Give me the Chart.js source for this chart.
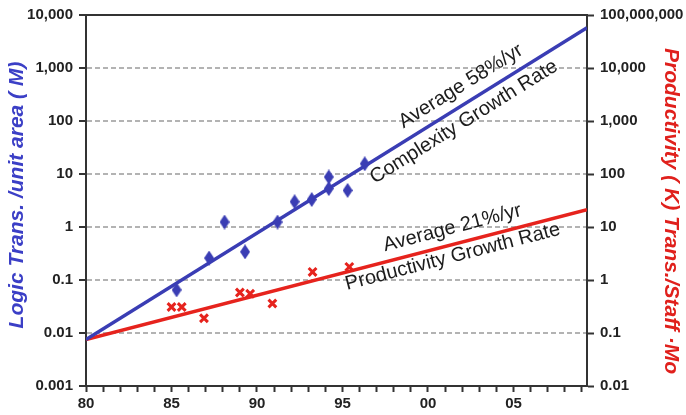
<!DOCTYPE html>
<html>
<head>
<meta charset="utf-8">
<script src="https://cdn.jsdelivr.net/npm/chart.js@4/dist/chart.umd.min.js"></script>
<style>
  html, body { margin: 0; padding: 0; background: #fff; }
  #wrap { width: 686px; height: 415px; position: relative; }
</style>
</head>
<body>
<div id="wrap"><canvas id="c"></canvas></div>
<script>
// Logic transistor density, millions per unit area (left axis)
const densityYears  = [1985.3, 1987.2, 1988.1, 1989.3, 1991.2, 1992.2, 1993.2, 1994.2, 1994.2, 1995.3, 1996.3];
const densityValues = [0.065, 0.26, 1.24, 0.34, 1.24, 3.0, 3.3, 8.8, 5.3, 4.9, 15.6];

// Design productivity, K transistors per staff-month (right axis)
const productivityYears  = [1985.0, 1985.6, 1986.9, 1989.0, 1989.6, 1990.9, 1993.25, 1995.4];
const productivityValues = [0.31, 0.31, 0.19, 0.58, 0.55, 0.36, 1.42, 1.77];

// Fitted growth trends (58%/yr complexity, 21%/yr productivity)
const trendYears        = [1980, 2009.3];
const complexityTrend   = [0.0075, 5750];
const productivityTrend = [0.075, 21.3];

// Axis ticks and their labels
const leftTicks       = [0.001, 0.01, 0.1, 1, 10, 100, 1000, 10000];
const leftTickLabels  = ['0.001', '0.01', '0.1', '1', '10', '100', '1,000', '10,000'];
const rightTicks      = [0.01, 0.1, 1, 10, 100, 1000, 10000, 100000];
const rightTickLabels = ['0.01', '0.1', '1', '10', '100', '1,000', '10,000', '100,000,000'];
const yearLabelAt     = [1980, 1985, 1990, 1995, 2000, 2005];
const yearLabels      = ['80', '85', '90', '95', '00', '05'];

const BLUE = '#3a3db4';
const RED = '#e6231d';
const AXIS = '#333333';
const TICK_FONT = { family: '"Liberation Sans", Arial, sans-serif', size: 15, weight: 'bold' };

// yearly minor ticks along the x axis
const yearTicks = [];
for (let y = 1980; y <= 2009; y++) yearTicks.push(y);

// tall diamond marker
function diamondMarker(w, h, color) {
  const c = document.createElement('canvas');
  c.width = w; c.height = h;
  const g = c.getContext('2d');
  g.fillStyle = color;
  g.beginPath();
  g.moveTo(w / 2, 0); g.lineTo(w, h / 2); g.lineTo(w / 2, h); g.lineTo(0, h / 2);
  g.closePath(); g.fill();
  return c;
}

const trendLabels = [
  { dataset: 0, year: 2002.45, offset: -17, text: 'Average 58%/yr' },
  { dataset: 0, year: 2001.64, offset: 15,  text: 'Complexity Growth Rate' },
  { dataset: 1, year: 2001.66, offset: -16, text: 'Average 21%/yr' },
  { dataset: 1, year: 2001.27, offset: 12,  text: 'Productivity Growth Rate' }
];

const annotations = {
  id: 'annotations',
  afterDatasetsDraw(chart) {
    const { ctx, chartArea, scales } = chart;
    ctx.save();
    // top frame line
    ctx.strokeStyle = AXIS;
    ctx.lineWidth = 2;
    ctx.beginPath();
    ctx.moveTo(chartArea.left, chartArea.top);
    ctx.lineTo(chartArea.right, chartArea.top);
    ctx.stroke();

    // rotated labels along the trend lines
    ctx.fillStyle = '#1c1c1c';
    ctx.font = '20px "Liberation Sans", Arial, sans-serif';
    ctx.textAlign = 'center';
    ctx.textBaseline = 'middle';
    trendLabels.forEach(l => {
      const ds = chart.data.datasets[l.dataset];
      const ys = scales[ds.yAxisID];
      const p0 = ds.data[0], p1 = ds.data[1];
      const x0 = scales.x.getPixelForValue(p0.x), y0 = ys.getPixelForValue(p0.y);
      const x1 = scales.x.getPixelForValue(p1.x), y1 = ys.getPixelForValue(p1.y);
      const t = (l.year - p0.x) / (p1.x - p0.x);
      const v = Math.pow(10, Math.log10(p0.y) + t * (Math.log10(p1.y) - Math.log10(p0.y)));
      const px = scales.x.getPixelForValue(l.year), py = ys.getPixelForValue(v);
      const ang = Math.atan2(y1 - y0, x1 - x0);
      ctx.save();
      ctx.translate(px, py);
      ctx.rotate(ang);
      ctx.fillText(l.text, 0, l.offset);
      ctx.restore();
    });
    ctx.restore();
  },
  afterDraw(chart) {
    const { ctx } = chart;
    ctx.save();
    ctx.font = 'italic bold 21px "Liberation Sans", Arial, sans-serif';
    ctx.textAlign = 'center';
    ctx.textBaseline = 'middle';
    ctx.fillStyle = '#3b3fc6';
    ctx.translate(17, 195);
    ctx.rotate(-Math.PI / 2);
    ctx.fillText('Logic Trans. /unit area ( M)', 0, 0);
    ctx.restore();

    ctx.save();
    ctx.font = 'italic bold 21px "Liberation Sans", Arial, sans-serif';
    ctx.textAlign = 'center';
    ctx.textBaseline = 'middle';
    ctx.fillStyle = '#e0201c';
    ctx.translate(671, 211);
    ctx.rotate(Math.PI / 2);
    ctx.fillText('Productivity ( K) Trans./Staff \u00b7Mo', 0, 0);
    ctx.restore();
  }
};

new Chart(document.getElementById('c'), {
  type: 'scatter',
  data: {
    datasets: [
      {
        type: 'line', label: 'Complexity trend', yAxisID: 'y',
        data: trendYears.map((x, i) => ({ x, y: complexityTrend[i] })),
        borderColor: BLUE, borderWidth: 3.5, pointRadius: 0, order: 3
      },
      {
        type: 'line', label: 'Productivity trend', yAxisID: 'y2',
        data: trendYears.map((x, i) => ({ x, y: productivityTrend[i] })),
        borderColor: RED, borderWidth: 3.5, pointRadius: 0, order: 4
      },
      {
        label: 'Logic density', yAxisID: 'y',
        data: densityYears.map((x, i) => ({ x, y: densityValues[i] })),
        pointStyle: diamondMarker(10, 15, BLUE), pointRadius: 6, order: 1
      },
      {
        label: 'Productivity', yAxisID: 'y2',
        data: productivityYears.map((x, i) => ({ x, y: productivityValues[i] })),
        pointStyle: 'crossRot', pointRadius: 5.5, borderColor: RED, borderWidth: 3, order: 2
      }
    ]
  },
  options: {
    responsive: true,
    maintainAspectRatio: false,
    animation: false,
    devicePixelRatio: 1,
    layout: { padding: { top: 14, right: 0, bottom: 0, left: 0 } },
    plugins: { legend: { display: false }, tooltip: { enabled: false } },
    scales: {
      x: {
        type: 'linear', min: 1980, max: 2009.3,
        afterBuildTicks: s => { s.ticks = yearTicks.map(v => ({ value: v })); },
        afterFit: s => { s.height = 29; },
        ticks: {
          autoSkip: false, maxRotation: 0, padding: 3,
          color: '#222', font: TICK_FONT,
          callback: v => { const i = yearLabelAt.indexOf(v); return i >= 0 ? yearLabels[i] : ''; }
        },
        grid: { drawOnChartArea: false, tickLength: 6, tickColor: AXIS, tickWidth: 2 },
        border: { color: AXIS, width: 2 }
      },
      y: {
        type: 'logarithmic', position: 'left', min: 0.001, max: 10000,
        afterBuildTicks: s => { s.ticks = leftTicks.map(v => ({ value: v })); },
        afterFit: s => { s.width = 86; },
        ticks: {
          color: '#222', font: TICK_FONT, padding: 6,
          callback: v => { const i = leftTicks.findIndex(t => Math.abs(Math.log10(t) - Math.log10(v)) < 1e-6); return i >= 0 ? leftTickLabels[i] : ''; }
        },
        grid: {
          color: c => (c.tick && c.tick.value > 0.0011 && c.tick.value < 9999) ? '#b3b3b3' : 'rgba(0,0,0,0)',
          lineWidth: 2, tickLength: 7, tickColor: AXIS, tickWidth: 2
        },
        border: { color: AXIS, width: 2, dash: [5, 3] }
      },
      y2: {
        type: 'logarithmic', position: 'right', min: 0.01, max: 100000,
        afterBuildTicks: s => { s.ticks = rightTicks.map(v => ({ value: v })); },
        afterFit: s => { s.width = 99; },
        ticks: {
          color: '#222', font: TICK_FONT, padding: 6,
          callback: v => { const i = rightTicks.findIndex(t => Math.abs(Math.log10(t) - Math.log10(v)) < 1e-6); return i >= 0 ? rightTickLabels[i] : ''; }
        },
        grid: { drawOnChartArea: false, tickLength: 7, tickColor: AXIS, tickWidth: 2 },
        border: { color: AXIS, width: 2 }
      }
    }
  },
  plugins: [annotations]
});
</script>
</body>
</html>
